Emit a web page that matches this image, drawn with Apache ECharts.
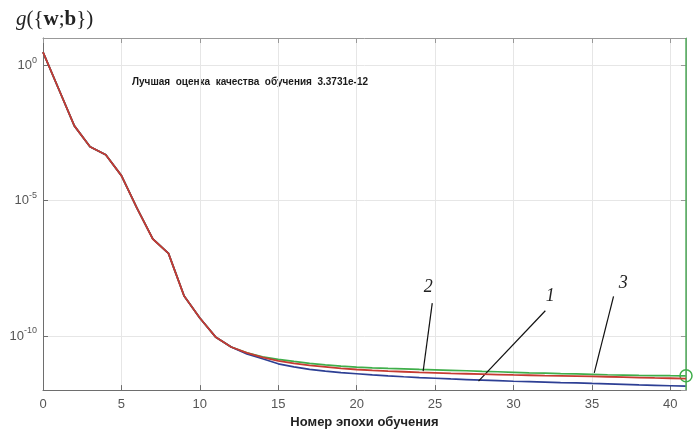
<!DOCTYPE html>
<html><head><meta charset="utf-8">
<script src="https://cdn.jsdelivr.net/npm/echarts@6/dist/echarts.min.js"></script>
<style>html,body{margin:0;padding:0;background:#fff}#c{width:699px;height:434px}</style>
</head><body><div id="c"></div>
<script>
// epochs 0..41
const epochs = [0,1,2,3,4,5,6,7,8,9,10,11,12,13,14,15,16,17,18,19,20,21,22,23,24,25,26,27,28,29,30,31,32,33,34,35,36,37,38,39,40,41];
// curve 1 (blue)
const curve1 = [3.0,0.131,5.7e-3,9.7e-4,4.9e-4,8.3e-5,5.1e-6,3.8e-7,1.12e-7,2.96e-9,4.6e-10,9.2e-11,3.9e-11,
  2.18e-11,1.43e-11,9.35e-12,7.25e-12,5.86e-12,5.04e-12,4.43e-12,4.01e-12,3.62e-12,3.33e-12,3.11e-12,2.91e-12,2.74e-12,2.58e-12,2.45e-12,2.33e-12,2.22e-12,2.12e-12,2.04e-12,1.97e-12,1.90e-12,1.84e-12,1.76e-12,1.69e-12,1.62e-12,1.55e-12,1.50e-12,1.45e-12,1.40e-12];
// curve 2 (red)
const curve2 = [3.0,0.131,5.7e-3,9.7e-4,4.9e-4,8.3e-5,5.1e-6,3.8e-7,1.12e-7,2.96e-9,4.6e-10,9.2e-11,3.9e-11,
  2.37e-11,1.62e-11,1.21e-11,9.7e-12,8.2e-12,7.25e-12,6.38e-12,5.77e-12,5.35e-12,5.0e-12,4.75e-12,4.51e-12,4.33e-12,4.15e-12,4.01e-12,3.88e-12,3.75e-12,3.62e-12,3.53e-12,3.44e-12,3.36e-12,3.27e-12,3.19e-12,3.11e-12,3.01e-12,2.91e-12,2.81e-12,2.74e-12,2.67e-12];
// curve 3 (green)
const curve3 = [3.0,0.131,5.7e-3,9.7e-4,4.9e-4,8.3e-5,5.1e-6,3.8e-7,1.12e-7,2.96e-9,4.6e-10,9.2e-11,3.9e-11,
  2.37e-11,1.69e-11,1.37e-11,1.15e-11,9.7e-12,8.6e-12,7.7e-12,7.06e-12,6.66e-12,6.33e-12,6.07e-12,5.82e-12,5.62e-12,5.39e-12,5.17e-12,4.95e-12,4.75e-12,4.55e-12,4.36e-12,4.22e-12,4.07e-12,3.94e-12,3.81e-12,3.68e-12,3.59e-12,3.50e-12,3.44e-12,3.40e-12,3.3731e-12];
const bestEpoch = 41;
const bestValue = 3.3731e-12;
const titleText = 'Лучшая  оценка  качества  обучения  3.3731e-12';
const xName = 'Номер эпохи обучения';
// annotation labels and leader lines (data coordinates)
const annoNames = ['2','1','3'];
const annoLabelX = [24.56, 32.35, 37.0];
const annoLabelY = [6.3e-9, 2.95e-9, 8.9e-9];
const annoStartX = [24.82, 32.03, 36.38];
const annoStartY = [1.63e-9, 8.5e-10, 2.88e-9];
const annoEndX = [24.24, 27.77, 35.15];
const annoEndY = [5.04e-12, 2.16e-12, 4.36e-12];

const pair = (xs, ys) => xs.map((x, i) => [x, ys[i]]);

const chart = echarts.init(document.getElementById('c'), null, {renderer: 'canvas'});
const axisGrey = '#6e6e6e';
const yLabelFmt = v => {
  const e = Math.round(Math.log10(v));
  return '{b|10}{s|' + e + '}';
};
const yAxisBase = {
  type: 'log', logBase: 100000, min: 1e-12, max: 10,
  axisLine: {show: true, lineStyle: {color: axisGrey, width: 1}},
  axisTick: {show: true, inside: true, length: 5, lineStyle: {color: axisGrey}},
  minorTick: {show: false}
};
chart.setOption({
  animation: false,
  backgroundColor: '#fff',
  grid: {left: 43, right: 13, top: 38, bottom: 41, containLabel: false},
  xAxis: [{
    type: 'value', position: 'bottom', min: 0, max: 41, interval: 5,
    axisLine: {show: true, lineStyle: {color: axisGrey, width: 1}},
    axisTick: {show: true, inside: true, length: 5, lineStyle: {color: axisGrey}},
    axisLabel: {color: '#555', fontSize: 13, margin: 8, fontFamily: 'Liberation Sans', showMaxLabel: false},
    splitLine: {show: true, lineStyle: {color: '#e6e6e6', width: 1}},
    name: xName, nameLocation: 'middle', nameGap: 23,
    nameTextStyle: {fontWeight: 'bold', fontSize: 13, color: '#222', fontFamily: 'Liberation Sans'}
  }, {
    type: 'value', position: 'top', min: 0, max: 41, interval: 5,
    axisLine: {show: true, onZero: false, lineStyle: {color: '#999', width: 1}},
    axisTick: {show: true, inside: true, length: 5, lineStyle: {color: '#999'}},
    axisLabel: {show: false}, splitLine: {show: false}
  }],
  yAxis: [Object.assign({}, yAxisBase, {
    position: 'left',
    axisLabel: {show: true, margin: 6, showMinLabel: false, showMaxLabel: false, formatter: yLabelFmt,
      color: '#555', fontFamily: 'Liberation Sans',
      rich: {b: {fontSize: 13, color: '#555', fontFamily: 'Liberation Sans'},
             s: {fontSize: 9, color: '#555', fontFamily: 'Liberation Sans', padding: [0, 0, 10, 0]}}},
    splitLine: {show: true, lineStyle: {color: '#e6e6e6', width: 1}}
  }), Object.assign({}, yAxisBase, {
    position: 'right',
    axisLine: {show: true, onZero: false, lineStyle: {color: '#999', width: 1}},
    axisTick: {show: true, inside: true, length: 5, lineStyle: {color: '#999'}},
    axisLabel: {show: false}, splitLine: {show: false}
  })],
  graphic: [{
    type: 'text', left: 16, top: 9,
    style: {
      text: '{i|g}(\u007B{bo|w};{bo|b}\u007D)',
      fontFamily: 'Liberation Serif', fontSize: 21, fill: '#222',
      rich: {
        i: {fontFamily: 'Liberation Serif', fontStyle: 'italic', fontSize: 21, fill: '#222'},
        bo: {fontFamily: 'Liberation Serif', fontWeight: 'bold', fontSize: 21, fill: '#222'}
      }
    }
  }, {
    type: 'text', left: 132, top: 77,
    style: {text: titleText, font: 'bold 10px "Liberation Sans"', fill: '#1a1a1a'}
  }],
  series: [{
    type: 'line', name: '3', data: pair(epochs, curve3), showSymbol: false, symbol: 'none',
    lineStyle: {color: '#3fae4a', width: 1.7}, z: 3,
    markLine: {
      silent: true, symbol: 'none', animation: false,
      label: {show: false},
      data: [
        {yAxis: bestValue, lineStyle: {color: '#8db99c', width: 1.5, type: 'solid'}},
        {xAxis: bestEpoch, lineStyle: {color: '#55b05f', width: 1.5, type: 'solid'}}
      ]
    },
    markPoint: {
      silent: true, animation: false,
      data: [{coord: [bestEpoch, bestValue], symbol: 'circle', symbolSize: 12,
        itemStyle: {color: 'rgba(0,0,0,0)', borderColor: '#3fae4a', borderWidth: 1.5}, label: {show: false}}]
    }
  }, {
    type: 'line', name: '1', data: pair(epochs, curve1), showSymbol: false, symbol: 'none',
    lineStyle: {color: '#2d3f94', width: 1.7}, z: 4
  }, {
    type: 'line', name: '2', data: pair(epochs, curve2), showSymbol: false, symbol: 'none',
    lineStyle: {color: '#c63b32', width: 1.8}, z: 5,
    markLine: {
      silent: true, symbol: 'none', animation: false, label: {show: false},
      lineStyle: {color: '#111', width: 1.2, type: 'solid'},
      data: annoNames.map((n, i) => [{coord: [annoStartX[i], annoStartY[i]]}, {coord: [annoEndX[i], annoEndY[i]]}])
    },
    markPoint: {
      silent: true, animation: false,
      data: annoNames.map((n, i) => ({name: n, coord: [annoLabelX[i], annoLabelY[i]], symbol: 'circle', symbolSize: 1,
        itemStyle: {color: 'rgba(0,0,0,0)'},
        label: {show: true, position: 'inside', formatter: n, fontFamily: 'Liberation Serif', fontStyle: 'italic',
          fontSize: 18, color: '#222'}}))
    }
  }]
});
</script></body></html>
